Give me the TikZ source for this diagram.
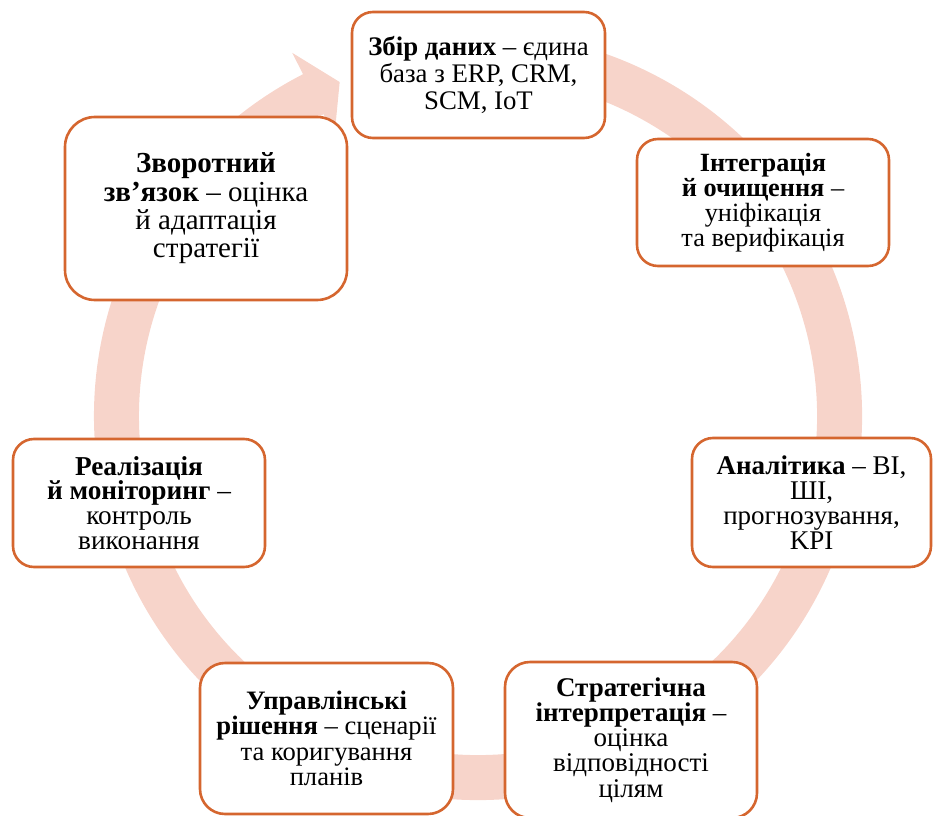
\documentclass[tikz,border=0pt]{standalone}
\usepackage{fontspec}
\usetikzlibrary{calc}
\setmainfont{Liberation Serif}
\definecolor{boxc}{HTML}{D5662F}
\definecolor{ringc}{HTML}{F7D4CA}
\newcommand\fsz[2]{\fontsize{#1}{#2}\selectfont}
\tikzset{
  stagebox/.style={draw=boxc, line width=2.6pt, fill=white, align=center,
    inner sep=0pt, font=\fsz{27}{25.2}},
  ringline/.style={draw=ringc, line width=45pt, line cap=butt},
}
\begin{document}
\begin{tikzpicture}[x=1pt,y=1pt]
\useasboundingbox (0,0) rectangle (933,815);
\clip (0,0) rectangle (933,815);
\coordinate (c) at (478,399);
% ring
\draw[ringline] ($(c)+(105:361.5)$) arc[start angle=105, end angle=-243.5, radius=361.5];
\fill[ringc] ($(c)+(117.1:315)$) -- ($(c)+(117.1:408)$) -- ($(c)+(112.5:361.5)$) -- cycle;
% boxes
\node[stagebox, font=\fsz{26.8}{27.2}, minimum width=253pt, minimum height=126pt, rounded corners=21pt] (n1) at (478.5,740)
  {\textbf{Збір даних} – єдина\\база з ERP, CRM,\\SCM, IoT};
\node[stagebox, font=\fsz{26.3}{25}, minimum width=252pt, minimum height=127pt, rounded corners=21pt] (n2) at (763,612.5)
  {\textbf{Інтеграція}\\\textbf{й очищення} –\\уніфікація\\та верифікація};
\node[stagebox, minimum width=239pt, minimum height=129pt, rounded corners=21pt] (n3) at (811.5,312.5)
  {\textbf{Аналітика} – BI,\\ШІ,\\прогнозування,\\KPI};
\node[stagebox, minimum width=252pt, minimum height=156pt, rounded corners=25pt] (n4) at (631,75)
  {\textbf{Стратегічна}\\\textbf{інтерпретація} –\\оцінка\\відповідності\\цілям};
\node[stagebox, font=\fsz{26.6}{25.5}, minimum width=253pt, minimum height=151pt, rounded corners=25pt] (n5) at (326.5,76.5)
  {\textbf{Управлінські}\\\textbf{рішення} – сценарії\\та коригування\\планів};
\node[stagebox, font=\fsz{27.3}{24.8}, minimum width=252pt, minimum height=128pt, rounded corners=21pt] (n6) at (139,312)
  {\textbf{Реалізація}\\\textbf{й моніторинг} –\\контроль\\виконання};
\node[stagebox, font=\fsz{29}{28.4}, minimum width=282pt, minimum height=183pt, rounded corners=30pt] (n7) at (206,606.5)
  {\textbf{Зворотний}\\\textbf{зв’язок} – оцінка\\й адаптація\\стратегії};
\end{tikzpicture}
\end{document}
